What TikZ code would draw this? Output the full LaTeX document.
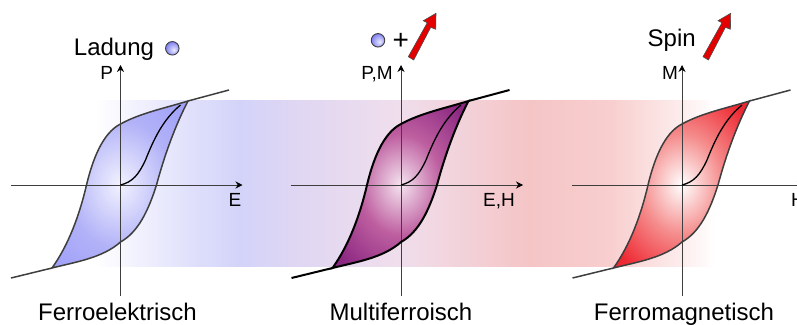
\documentclass[tikz,border=0pt]{standalone}
\usepackage{fontspec}
\setmainfont{Liberation Sans}
\usetikzlibrary{arrows.meta, positioning}
\definecolor{linegray}{RGB}{62,62,62}
\definecolor{bandb}{RGB}{224,224,252}
\definecolor{bandc}{RGB}{211,211,249}
\definecolor{bandd}{RGB}{222,214,243}
\definecolor{bande}{RGB}{240,222,236}
\definecolor{bandf}{RGB}{245,197,198}
\definecolor{bandg}{RGB}{248,206,206}
\definecolor{bandh}{RGB}{253,236,236}
\definecolor{chargea}{RGB}{242,242,255}
\definecolor{chargeb}{RGB}{178,178,248}
\definecolor{chargec}{RGB}{160,160,250}
\definecolor{mixa}{RGB}{245,228,240}
\definecolor{mixb}{RGB}{190,95,160}
\definecolor{mixc}{RGB}{140,40,130}
\definecolor{spinb}{RGB}{245,140,140}
\definecolor{spinc}{RGB}{238,40,50}
\definecolor{balla}{RGB}{235,235,255}
\definecolor{ballb}{RGB}{120,120,240}

\pgfdeclarehorizontalshading{bandshade}{100bp}{
  color(0bp)=(white);
  color(25bp)=(white);
  color(32.7bp)=(bandb);
  color(36.7bp)=(bandc);
  color(40.7bp)=(bandd);
  color(49.6bp)=(bande);
  color(60bp)=(bandf);
  color(66.5bp)=(bandg);
  color(72.2bp)=(bandh);
  color(75bp)=(white);
  color(100bp)=(white)}
\pgfdeclareradialshading{chargeshade}{\pgfpoint{0bp}{0bp}}{
  color(0bp)=(chargea);
  color(19bp)=(chargeb);
  color(34bp)=(chargec);
  color(50bp)=(chargec)}
\pgfdeclareradialshading{mixshade}{\pgfpoint{0bp}{0bp}}{
  color(0bp)=(mixa);
  color(15bp)=(mixb);
  color(31bp)=(mixc);
  color(50bp)=(mixc)}
\pgfdeclareradialshading{spinshade}{\pgfpoint{0bp}{0bp}}{
  color(0bp)=(white);
  color(15bp)=(spinb);
  color(31bp)=(spinc);
  color(50bp)=(spinc)}
\pgfdeclareradialshading{ballshade}{\pgfpoint{6bp}{-6bp}}{
  color(0bp)=(balla);
  color(30bp)=(ballb);
  color(50bp)=(ballb)}

% outer loop, origin at the crossing of the axes
\newcommand{\hystpath}{(67.5,-84) .. controls (45,-77) and (20,-72) .. (0,-61)
  .. controls (-18,-52) and (-28,-25) .. (-34,0)
  .. controls (-41,30) and (-52,60) .. (-68.5,83)
  .. controls (-45,77) and (-18,73) .. (0,57)
  .. controls (18,47) and (28,25) .. (36,0)
  .. controls (44,-30) and (55,-60) .. (67.5,-84) -- cycle}

\begin{document}
\begin{tikzpicture}[
    x=1pt, y=-1pt,
    axis/.style={-{Stealth[length=7pt,width=7pt,black]}, draw=linegray, line width=0.9pt},
    loopline/.style={draw=linegray, line width=1.5pt},
    loopthick/.style={draw=black, line width=2pt},
    virgin/.style={draw=black, line width=1.3pt},
    caption/.style={anchor=base, font=\fontsize{24}{24}\selectfont, inner sep=0pt},
    axlabel/.style={anchor=base, font=\fontsize{19}{20}\selectfont, inner sep=0pt},
    ball/.style={circle, draw=linegray, line width=0.9pt, minimum size=13.5pt, inner sep=0pt, shading=ballshade},
    spinarrow/.pic={\draw[fill=red!90!black, draw=black!70, line width=0.6pt]
        (0,0) -- (5.4,3.3) -- (22.4,-29.4) -- (27.4,-27.4) -- (27.7,-43.4) -- (15,-36) -- (19,-34) -- cycle;}
]
\useasboundingbox (0,0) rectangle (797,324);
\shade[shading=bandshade] (95,100) rectangle (715,266);

% one set of axes and one loop per material
\foreach \n/\x/\sh/\ln in {a/120.5/chargeshade/loopline, b/401/mixshade/loopthick, c/682/spinshade/loopline}{
  \begin{scope}[shift={(\x,185)}]
    \shade[shading=\sh] \hystpath;
    \coordinate (\n west) at (-110,0);
    \coordinate (\n east) at (122,0);
    \coordinate (\n south) at (0,111);
    \coordinate (\n north) at (0,-120);
    \coordinate (\n tip) at (67.5,-84);
    \coordinate (\n end) at (-68.5,83);
    \coordinate (\n far) at (108.5,-95);
    \coordinate (\n near) at (-109.5,93);
    \draw[axis] (\n west) -- (\n east);
    \draw[axis] (\n south) -- (\n north);
    \draw[\ln] \hystpath;
    \draw[\ln] (\n tip) -- (\n far);
    \draw[\ln] (\n end) -- (\n near);
    \draw[virgin] (0,0) .. controls (12,-3) and (18,-10) .. (25,-25)
      .. controls (33,-45) and (42,-65) .. (60,-80);
  \end{scope}
}

\node[axlabel] (pa) at (106.7,79.3) {P};
\node[axlabel] (ea) at (235,206) {E};
\node[axlabel] (pb) at (377,79.3) {P,M};
\node[axlabel] (eb) at (499,206) {E,H};
\node[axlabel] (mc) at (670,79.3) {M};
\node[axlabel] (hc) at (798,206) {H};

\node[caption] (top a) at (114,55) {Ladung};
\node[ball] (ball a) at (172.3,48.3) {};
\node[ball] (ball b) at (378,40.3) {};
\node[caption, font=\fontsize{28}{28}\selectfont] (plus) at (400.7,49) {+};
\node[caption] (top c) at (671.7,46.7) {Spin};
\pic at (408.3,56.7) {spinarrow};
\pic at (703,56.7) {spinarrow};

\node[caption] (cap a) at (117.5,320) {Ferroelektrisch};
\node[caption] (cap b) at (401,320) {Multiferroisch};
\node[caption] (cap c) at (684,320) {Ferromagnetisch};

\end{tikzpicture}
\end{document}
